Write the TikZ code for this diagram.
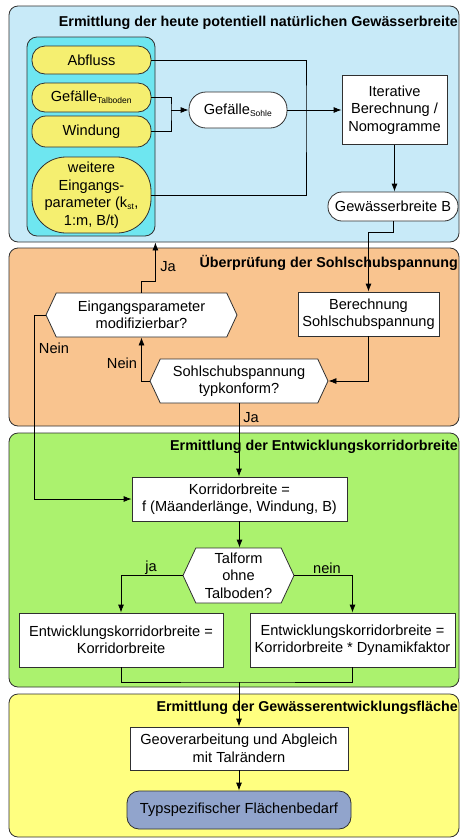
\documentclass[tikz,border=0pt]{standalone}
\usepackage{fontspec}
\setmainfont{Liberation Sans}
\usetikzlibrary{arrows.meta,shapes.symbols,shapes.misc}
\definecolor{pblue}{HTML}{C8EAF8}
\definecolor{pcyan}{HTML}{6EE6F0}
\definecolor{pyel}{HTML}{F5EF70}
\definecolor{porange}{HTML}{F9C48F}
\definecolor{pgreen}{HTML}{ABF26E}
\definecolor{pyellow}{HTML}{FFFF80}
\definecolor{pslate}{HTML}{91A4CC}
\definecolor{edge}{HTML}{303030}
\newcommand\myfs{\fontsize{14.6}{17.5}\selectfont}
\newcommand\mytfs{\fontsize{14.3}{17}\selectfont}
\newcommand\mysub[1]{\textsubscript{\fontsize{8.5}{8.5}\selectfont #1}}
\begin{document}
\begin{tikzpicture}[x=1pt,y=-1pt,
  panel/.style={draw=edge, line width=0.8pt, rounded corners=9pt, inner sep=0pt},
  box/.style={draw=edge, fill=white, line width=0.8pt, align=center, inner sep=1pt, font=\myfs},
  pill/.style={box, rounded corners=#1},
  yel/.style={fill=pyel},
  hex/.style={box, signal, signal to=west and east, signal pointer angle=130},
  arr/.style={-{Latex[length=8pt,width=6pt]}, line width=0.8pt, draw=black},
  ln/.style={line width=0.8pt, draw=black},
  ptitle/.style={font=\mytfs\bfseries, anchor=east, inner sep=0pt},
  lbl/.style={font=\myfs, inner sep=0pt}]
\useasboundingbox (0,0) rectangle (460,839);
\fill[white] (0,0) rectangle (460,839);

% panels
\node[panel, fill=pblue, minimum width=450, minimum height=236] (p1) at (234,124) {};
\node[panel, fill=porange, minimum width=450, minimum height=178] (p2) at (234,337) {};
\node[panel, fill=pgreen, minimum width=450, minimum height=254] (p3) at (234,560) {};
\node[panel, fill=pyellow, minimum width=450, minimum height=143] (p4) at (234,765.5) {};

\node[ptitle] (t1) at (458,23) {Ermittlung der heute potentiell natürlichen Gewässerbreite};
\node[ptitle] (t2) at (458,263) {Überprüfung der Sohlschubspannung};
\node[ptitle] (t3) at (458,447) {Ermittlung der Entwicklungskorridorbreite};
\node[ptitle] (t4) at (458,708) {Ermittlung der Gewässerentwicklungsfläche};

% inputs
\node[panel, fill=pcyan, rounded corners=10pt, minimum width=128, minimum height=199] (inputs) at (91,136.5) {};
\node[pill=13pt, yel, minimum width=119, minimum height=28] (abfluss) at (91.5,60) {Abfluss};
\node[pill=13pt, yel, minimum width=119, minimum height=29] (geft) at (91.5,97.5) {Gefälle\mysub{Talboden}};
\node[pill=14pt, yel, minimum width=119, minimum height=31] (wind) at (91.5,131.5) {Windung};
\node[pill=34pt, yel, minimum width=119, minimum height=76, inner sep=0pt] (weitere) at (91.5,195) {weitere\\Eingangs-\\parameter (k\mysub{st},\\1:m, B/t)};

\node[pill=17pt, minimum width=98, minimum height=36] (sohle) at (238,110) {Gefälle\mysub{Sohle}};
\node[box, minimum width=105, minimum height=69] (iter) at (394.5,110) {Iterative\\Berechnung /\\Nomogramme};
\node[pill=14pt, minimum width=130, minimum height=29] (gwb) at (393,206.5) {Gewässerbreite B};

\coordinate (mx) at (306,110);
\coordinate (bx) at (171,110);
\draw[ln] (abfluss.east) -| (mx) |- (weitere.east);
\draw[ln] (geft.east) -| (bx) |- (wind.east);
\draw[arr] (bx) -- (sohle.west);
\draw[arr] (sohle.east) -- (iter.west);
\draw[arr] (iter.south) -- (iter.south |- gwb.north);

% section 2
\node[box, minimum width=141, minimum height=44] (ber) at (368.5,314) {Berechnung\\Sohlschubspannung};
\node[hex, minimum width=191, minimum height=44] (eing) at (141.5,315) {Eingangsparameter\\modifizierbar?};
\node[hex, minimum width=178, minimum height=44] (sohl) at (239,381) {Sohlschubspannung\\typkonform?};

\draw[arr] (gwb.south) -- ++(0,11) -| (ber.north);
\draw[arr] (ber.south) |- (sohl.east);
\draw[arr] (sohl.west) -| (eing.south);
\draw[arr] (eing.north) -- ++(0,-11) -| (p1.south -| inputs.east);

% section 3
\node[box, minimum width=215, minimum height=44] (korr) at (239.5,499) {Korridorbreite =\\f (Mäanderlänge, Windung, B)};
\node[hex, minimum width=111, minimum height=55, inner sep=0pt] (tal) at (238.5,575.5) {Talform\\ohne\\Talboden?};
\node[box, minimum width=204, minimum height=54] (lbox) at (121,640) {Entwicklungskorridorbreite =\\Korridorbreite};
\node[box, minimum width=205, minimum height=54] (rbox) at (352.5,640) {Entwicklungskorridorbreite =\\Korridorbreite * Dynamikfaktor};

\draw[arr] (eing.west) -- ++(-11,0) |- (korr.west);
\draw[arr] (sohl.south) -- (sohl.south |- korr.north);
\draw[arr] (korr.south) -- (korr.south |- tal.north);
\draw[arr] (tal.west) -| (lbox.north);
\draw[arr] (tal.east) -| (rbox.north);

% section 4
\node[box, minimum width=218, minimum height=43] (geo) at (239,748.5) {Geoverarbeitung und Abgleich\\mit Talrändern};
\node[pill=12pt, fill=pslate, minimum width=224, minimum height=38] (typ) at (239,810) {Typspezifischer Flächenbedarf};

\coordinate (mj) at (239,682);
\draw[ln] (lbox.south) |- (mj) -| (rbox.south);
\draw[arr] (mj) -- (mj |- geo.north);
\draw[arr] (geo.south) -- (geo.south |- typ.north);

% labels
\node[lbl] (l1) at (168,267) {Ja};
\node[lbl] (l2) at (54,348) {Nein};
\node[lbl] (l3) at (122,363) {Nein};
\node[lbl] (l4) at (251,418) {Ja};
\node[lbl] (l5) at (151,568) {ja};
\node[lbl] (l6) at (327,568) {nein};
\end{tikzpicture}
\end{document}
